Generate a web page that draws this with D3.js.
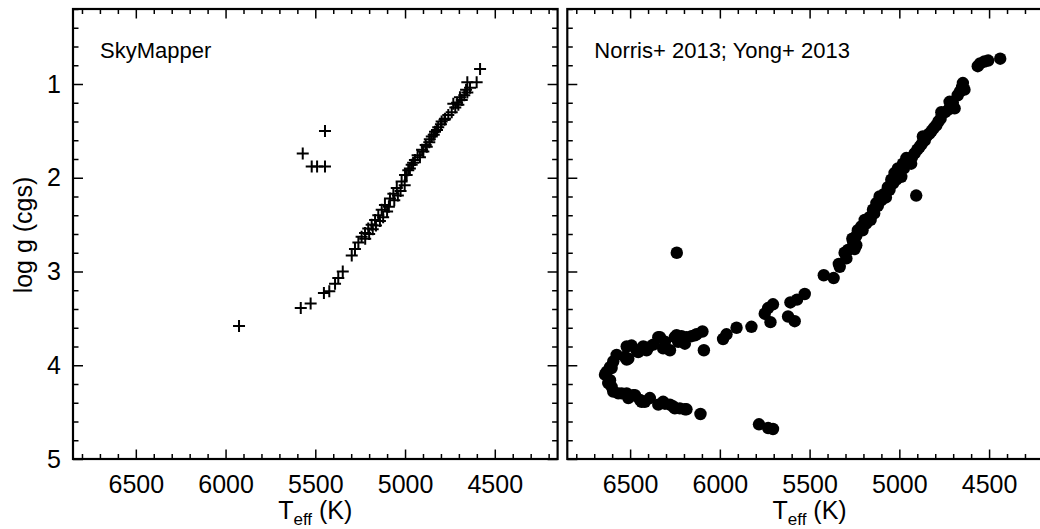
<!DOCTYPE html>
<html>
<head>
<meta charset="utf-8">
<script src="https://cdn.jsdelivr.net/npm/d3@7/dist/d3.min.js"></script>
<style>
  html, body { margin: 0; padding: 0; background: #fff; }
  svg { display: block; font-family: "Liberation Sans", Arial, Helvetica, sans-serif; }
  .tick line { stroke: #000; stroke-width: 1.5; }
  .tick text { fill: #000; }
</style>
</head>
<body>
<div id="chart"></div>
<script>
// Tick values and labels
const xTicks = [6500, 6000, 5500, 5000, 4500];
const yTicks = [1, 2, 3, 4, 5];
const panelLabels = ['SkyMapper', 'Norris+ 2013; Yong+ 2013'];

// SkyMapper stars (plus markers): Teff (K), log g
const skyTeff = [
  5925, 5581, 5526, 5452, 5422, 5390, 5372, 5347, 5297, 5279, 5260,
  5570, 5520, 5490, 5446, 5446,
  5242, 5223, 5205, 5186, 5167, 5149, 5130, 5112, 5084, 5065, 5046, 5019,
  4991, 4973, 5000, 4982, 4963, 4945, 4917, 4898, 4879, 4865, 4851, 4833,
  4815, 4796, 4777, 4759, 4740, 4703, 4731, 4684, 4694, 4653, 4660, 4638,
  4601, 4653, 4582,
  5222, 5200, 5180, 5162, 5140, 5122, 5100, 5090, 5060, 5040, 5025, 5002,
  4955, 4930, 4905, 4885, 4862, 4840, 4822, 4800, 4780, 4720, 4710, 4670
];
const skyLogg = [
  3.58, 3.39, 3.34, 3.23, 3.21, 3.13, 3.07, 3.00, 2.83, 2.76, 2.69,
  1.74, 1.88, 1.88, 1.88, 1.50,
  2.63, 2.59, 2.54, 2.50, 2.45, 2.40, 2.34, 2.29, 2.22, 2.17, 2.11, 2.04,
  1.97, 1.90, 1.97, 1.92, 1.86, 1.81, 1.78, 1.72, 1.67, 1.62, 1.56, 1.51,
  1.46, 1.40, 1.37, 1.33, 1.30, 1.22, 1.21, 1.17, 1.14, 1.09, 1.06, 1.04,
  0.98, 0.98, 0.84,
  2.65, 2.60, 2.55, 2.51, 2.46, 2.42, 2.36, 2.31, 2.24, 2.19, 2.14, 2.08,
  1.84, 1.76, 1.70, 1.65, 1.59, 1.54, 1.49, 1.43, 1.38, 1.25, 1.20, 1.12
];

// Norris+ 2013; Yong+ 2013 stars (filled circles): Teff (K), log g
const litTeff = [
  4438, 4505, 4526, 4550, 4563, 4646, 4637, 4650, 4662, 4675, 4692, 4702,
  4720, 4725, 4745, 4766, 4770, 4782, 4794, 4808, 4820, 4832, 4845, 4869,
  4858, 4887, 4875, 4900, 4915, 4930, 4961, 4945, 4934, 4961, 4980, 4975,
  5008, 4998, 4989, 5027, 5017, 5045, 5035, 5064, 5055, 5082, 5075, 5101,
  5101, 5110, 5128, 5120, 5147, 5140, 5166, 5160, 5193, 5185, 5212, 5205,
  5231, 5240, 5262, 5258, 5240, 5258, 5249, 5286, 5305, 5295, 5332, 5337,
  5366, 5421, 5527, 5570, 5607, 5620, 5583, 5704, 5731, 5750, 5718, 5824,
  5907, 5963, 5982, 4906, 6240,
  6097, 6139, 6186, 6195, 6232, 6251, 6278, 6316, 6343, 6408, 6455, 6464,
  6519, 6519, 6575, 6603, 6640, 6130, 6158, 6213, 6241, 6306, 6334, 6371,
  6399, 6427, 6492, 6529, 6510, 6594, 6612, 6631, 6089,
  6612, 6603, 6594, 6566, 6519, 6510, 6483, 6445, 6418, 6390, 6343, 6316,
  6278, 6251, 6195, 6108, 6622, 6547, 6473, 6436, 6306, 6260, 6223, 6186,
  5782, 5731, 5704
];
const litLogg = [
  0.73, 0.75, 0.76, 0.78, 0.81, 0.99, 1.06, 1.03, 1.08, 1.12, 1.26, 1.20,
  1.19, 1.27, 1.30, 1.30, 1.37, 1.40, 1.44, 1.47, 1.50, 1.53, 1.55, 1.56,
  1.60, 1.67, 1.64, 1.70, 1.74, 1.78, 1.79, 1.81, 1.85, 1.83, 1.85, 1.90,
  1.90, 1.95, 1.99, 1.95, 2.02, 2.02, 2.06, 2.10, 2.13, 2.17, 2.21, 2.20,
  2.24, 2.20, 2.27, 2.30, 2.34, 2.38, 2.42, 2.45, 2.45, 2.49, 2.52, 2.56,
  2.56, 2.62, 2.65, 2.68, 2.72, 2.74, 2.76, 2.77, 2.80, 2.86, 2.95, 2.92,
  3.07, 3.04, 3.24, 3.30, 3.33, 3.48, 3.53, 3.35, 3.39, 3.45, 3.54, 3.59,
  3.60, 3.67, 3.72, 2.19, 2.80,
  3.64, 3.68, 3.70, 3.77, 3.75, 3.70, 3.84, 3.82, 3.70, 3.84, 3.86, 3.84,
  3.94, 3.80, 3.89, 4.03, 4.10, 3.67, 3.69, 3.69, 3.68, 3.75, 3.70, 3.78,
  3.81, 3.80, 3.79, 3.91, 3.93, 3.96, 4.02, 4.07, 3.84,
  4.16, 4.23, 4.28, 4.30, 4.30, 4.35, 4.32, 4.37, 4.39, 4.35, 4.42, 4.39,
  4.42, 4.46, 4.47, 4.52, 4.19, 4.30, 4.32, 4.39, 4.41, 4.44, 4.46, 4.47,
  4.63, 4.67, 4.68
];

const W = 1040, H = 529;
const panelW = 484.6, panelH = 450;
const panelTop = 9;
const panelLeft = [73, 567.3];

const x = d3.scaleLinear().domain([6850, 4150]).range([0, panelW]);
const y = d3.scaleLinear().domain([0.2, 5.0]).range([0, panelH]);

const xMinor = d3.range(4200, 6900, 100).filter((v) => v % 500 !== 0);
const yMinor = d3.range(2, 50, 2).map((v) => v / 10).filter((v) => Math.abs(v - Math.round(v)) > 1e-6);

const svg = d3.select('#chart')
  .append('svg')
  .attr('width', W)
  .attr('height', H);

function drawPanel(i) {
  const g = svg.append('g')
    .attr('transform', `translate(${panelLeft[i]},${panelTop})`);

  // major ticks on all four sides, pointing inwards
  const majorAxes = [
    [d3.axisBottom(x), `translate(0,${panelH})`, xTicks, -9.5, 16, true],
    [d3.axisTop(x), 'translate(0,0)', xTicks, -9.5, 16, false],
    [d3.axisLeft(y), 'translate(0,0)', yTicks, -10, 12, i === 0],
    [d3.axisRight(y), `translate(${panelW},0)`, yTicks, -10, 12, false],
  ];
  majorAxes.forEach(([ax, tr, vals, size, pad, lab]) => {
    g.append('g')
      .attr('transform', tr)
      .style('font-size', '25px')
      .call(ax.tickValues(vals)
        .tickSize(size)
        .tickPadding(pad)
        .tickFormat(lab ? d3.format('d') : () => ''))
      .call((s) => s.select('.domain').remove());
  });

  // minor ticks
  const minorAxes = [
    [d3.axisBottom(x), `translate(0,${panelH})`, xMinor, -5],
    [d3.axisTop(x), 'translate(0,0)', xMinor, -5],
    [d3.axisLeft(y), 'translate(0,0)', yMinor, -5.5],
    [d3.axisRight(y), `translate(${panelW},0)`, yMinor, -5.5],
  ];
  minorAxes.forEach(([ax, tr, vals, size]) => {
    g.append('g')
      .attr('transform', tr)
      .call(ax.tickValues(vals).tickSize(size).tickFormat(() => ''))
      .call((s) => s.select('.domain').remove());
  });

  // frame
  g.append('rect')
    .attr('width', panelW)
    .attr('height', panelH)
    .attr('fill', 'none')
    .attr('stroke', '#000')
    .attr('stroke-width', 2.2);

  // panel label
  g.append('text')
    .attr('x', 27)
    .attr('y', 49)
    .attr('font-size', 22)
    .text(panelLabels[i]);

  // x title
  const t = g.append('text')
    .attr('x', panelW / 2)
    .attr('y', panelH + 60)
    .attr('text-anchor', 'middle')
    .attr('font-size', 25);
  t.append('tspan').text('T');
  t.append('tspan').attr('font-size', 17).attr('dy', 6).text('eff');
  t.append('tspan').attr('dy', -6).text(' (K)');

  return g;
}

const left = drawPanel(0);
const right = drawPanel(1);

// y title
svg.append('text')
  .attr('transform', 'translate(32,235) rotate(-90)')
  .attr('text-anchor', 'middle')
  .attr('font-size', 25)
  .text('log g (cgs)');

// SkyMapper plus markers
left.append('g')
  .selectAll('path')
  .data(skyTeff.map((d, i) => [d, skyLogg[i]]))
  .enter()
  .append('path')
  .attr('d', (d) => `M${x(d[0]) - 6},${y(d[1])}H${x(d[0]) + 6}M${x(d[0])},${y(d[1]) - 6}V${y(d[1]) + 6}`)
  .attr('stroke', '#000')
  .attr('stroke-width', 2)
  .attr('fill', 'none');

// literature filled circles
right.append('g')
  .selectAll('circle')
  .data(litTeff.map((d, i) => [d, litLogg[i]]))
  .enter()
  .append('circle')
  .attr('cx', (d) => x(d[0]))
  .attr('cy', (d) => y(d[1]))
  .attr('r', 6.2)
  .attr('fill', '#000');
</script>
</body>
</html>
